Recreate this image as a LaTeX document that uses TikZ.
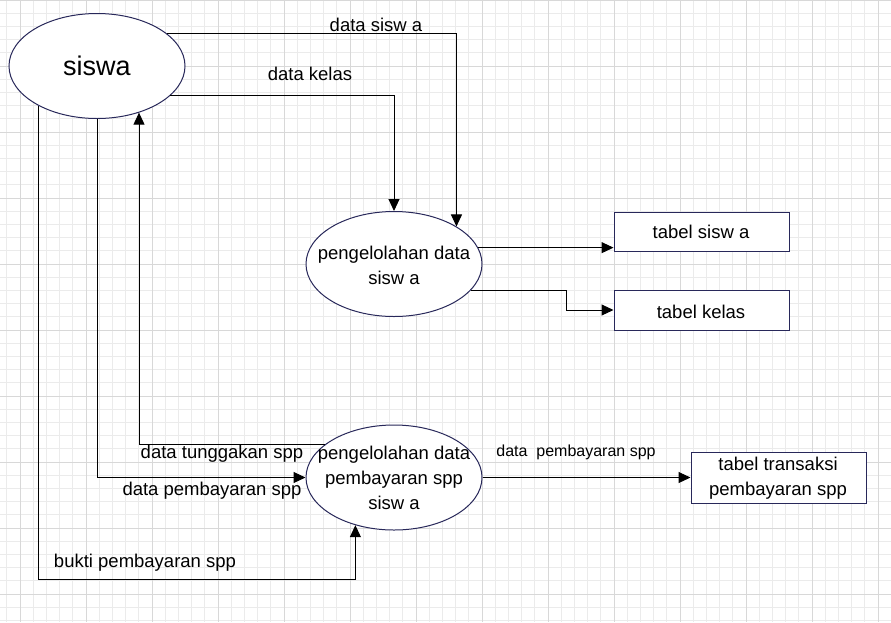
\documentclass[tikz,border=0pt]{standalone}
\usepackage{fontspec}
\setmainfont{Liberation Sans}
\usetikzlibrary{shapes.geometric,arrows.meta}
\definecolor{gridminor}{RGB}{235,235,235}
\definecolor{gridmajor}{RGB}{216,216,216}
\definecolor{edgeblue}{RGB}{40,40,90}
\begin{document}
\begin{tikzpicture}[x=1pt,y=-1pt,
        proc/.style={ellipse, draw=edgeblue, fill=white, line width=1pt, minimum width=176pt, minimum height=105pt, inner sep=0pt},
        store/.style={rectangle, draw=edgeblue, fill=white, line width=1pt, minimum width=175pt, inner sep=0pt},
        txt/.style={font=\fontsize{18.5}{25}\selectfont, align=center, inner sep=0pt},
        small/.style={font=\fontsize{16}{20}\selectfont, inner sep=0pt},
        flow/.style={draw=black, line width=1pt, -{Triangle[length=12pt,width=11pt]}}]
        \useasboundingbox (0,0) rectangle (891,622);
        \fill[white] (0,0) rectangle (891,622);
        \foreach \i in {-1,...,66}
            \draw[gridminor, line width=1pt] ({20+13.2*\i},0) -- ({20+13.2*\i},622);
        \foreach \j in {0,...,47}
            \draw[gridminor, line width=1pt] (0,{13.2*\j}) -- (891,{13.2*\j});
        \foreach \i in {0,...,13}
            \draw[gridmajor, line width=1pt] ({20+66*\i},0) -- ({20+66*\i},622);
        \foreach \j in {0,...,9}
            \draw[gridmajor, line width=1pt] (0,{66*\j}) -- (891,{66*\j});

        \node[proc, font=\fontsize{27}{30}\selectfont] (siswa) at (97,66) {siswa};
        \node[proc] (p1) at (394,264) {};
        \node[txt] (p1text) at (394,265) {pengelolahan data\\sisw a};
        \node[proc] (p2) at (394,477.5) {};
        \node[txt] (p2text) at (394,478) {pengelolahan data\\pembayaran spp\\sisw a};
        \node[store, minimum height=39pt] (tsiswa) at (701.5,231.5) {};
        \node[txt] (tsiswatext) at (701,232) {tabel sisw a};
        \node[store, minimum height=40pt] (tkelas) at (701.5,310) {};
        \node[txt] (tkelastext) at (701,312) {tabel kelas};
        \node[store, minimum height=51pt] (ttrans) at (778.5,477.5) {};
        \node[txt] (ttranstext) at (778,478) {tabel transaksi\\pembayaran spp};

        \node[txt] (lsiswa) at (376,25) {data sisw a};
        \node[txt] (lkelas) at (310,74) {data kelas};
        \node[txt] (ltunggak) at (222,454) {data tunggakan spp};
        \node[txt] (lbayar) at (212,491) {data pembayaran spp};
        \node[txt] (lbukti) at (145,563) {bukti pembayaran spp};
        \node[small] (lbayar2) at (576,452) {data\ \ pembayaran spp};

        \coordinate (bline) at (0,579);
        \draw[flow] (siswa.25) -| (p1.31);
        \draw[flow] (siswa.-22) -| (p1.north);
        \draw[flow] (p1.11) -- (p1.11 -| tsiswa.west);
        \draw[flow] (p1.-19) -- ++(96,0) |- (tkelas.west);
        \draw[flow] (p2.154) -| (siswa.-48);
        \draw[flow] (siswa.south) |- (p2.west);
        \draw[flow] (siswa.214) -- (siswa.214 |- bline) -| (p2.-129);
        \draw[flow] (p2.east) -- (ttrans.west);
    \end{tikzpicture}
\end{document}
